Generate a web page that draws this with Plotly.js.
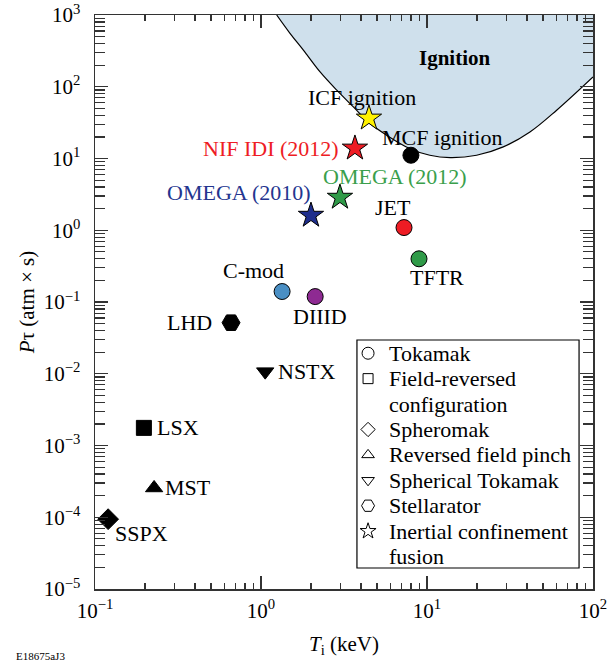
<!DOCTYPE html>
<html><head><meta charset="utf-8">
<script src="https://cdn.plot.ly/plotly-3.0.1.min.js"></script>
<style>html,body{margin:0;padding:0;background:#fff}</style>
</head><body><div id="chart" style="width:610px;height:663px"></div>
<script>
// ---- data ----
const devices = ['C-mod','DIIID','JET','TFTR','MCF ignition','ICF ignition','NIF IDI (2012)','OMEGA (2012)','OMEGA (2010)','LHD','NSTX','LSX','MST','SSPX'];
const Ti   = [1.34, 2.12, 7.27, 8.95, 8.0, 4.47, 3.68, 2.99, 2.0, 0.66, 1.06, 0.197, 0.227, 0.12];
const Ptau = [0.14, 0.119, 1.09, 0.40, 11.1, 36.4, 13.9, 2.87, 1.61, 0.0515, 0.0107, 0.00176, 0.000256, 0.000094];
const conceptType = ['Tokamak','Tokamak','Tokamak','Tokamak','Tokamak','ICF','ICF','ICF','ICF','Stellarator','Spherical Tokamak','FRC','RFP','Spheromak'];

const ignitionTi   = [1.243, 1.495, 1.80, 2.27, 2.86, 3.60, 4.54, 5.72, 7.9, 10.4, 13.8, 19.9, 28.8, 41.7, 60.4, 100];
const ignitionPtau = [1000, 555, 324, 161, 89.7, 52.4, 30.7, 21.1, 13.7, 11.1, 10.3, 11.1, 14.5, 23.4, 47.1, 137];

const legendConcepts = ['Tokamak','FRC','Spheromak','RFP','Spherical Tokamak','Stellarator','ICF'];
const legendLines = [['Tokamak'],['Field-reversed','configuration'],['Spheromak'],['Reversed field pinch'],['Spherical Tokamak'],['Stellarator'],['Inertial confinement','fusion']];

const xTickVals = [0.1, 1, 10, 100];
const xTickText = ['10<sup>−1</sup>','10<sup>0</sup>','10<sup>1</sup>','10<sup>2</sup>'];
const yTickVals = [1e-5,1e-4,1e-3,1e-2,1e-1,1,10,100,1000];
const yTickText = ['10<sup>−5</sup>','10<sup>−4</sup>','10<sup>−3</sup>','10<sup>−2</sup>','10<sup>−1</sup>','10<sup>0</sup>','10<sup>1</sup>','10<sup>2</sup>','10<sup>3</sup>'];

// ---- styles ----
const FONT = 'Liberation Serif';
const symbolOf = {'Tokamak':'circle','FRC':'square','Spheromak':'diamond','RFP':'triangle-up','Spherical Tokamak':'triangle-down','Stellarator':'hexagon2','ICF':'star'};
const sizeOf = {'Tokamak':16,'FRC':15,'Spheromak':16,'RFP':15,'Spherical Tokamak':15,'Stellarator':18,'ICF':19};
const legendSizeOf = {'Tokamak':12,'FRC':10,'Spheromak':11,'RFP':11,'Spherical Tokamak':11,'Stellarator':13,'ICF':12};
const deviceColor = {'C-mod':'#4a8fc4','DIIID':'#8e2a92','JET':'#ee1c24','TFTR':'#2f9a48','MCF ignition':'#000000','ICF ignition':'#fff200','NIF IDI (2012)':'#ee1c24','OMEGA (2012)':'#2f9a48','OMEGA (2010)':'#1e2d8c','LHD':'#000','NSTX':'#000','LSX':'#000','MST':'#000','SSPX':'#000'};
const labelColor = {'NIF IDI (2012)':'#ee1c24','OMEGA (2012)':'#3a9f4c','OMEGA (2010)':'#24358f'};
// label placement: [xanchor, xshift, yshift]
const labelPlace = {
  'C-mod':['center',-29,21], 'DIIID':['center',5,-20], 'JET':['center',-11,20], 'TFTR':['center',18,-19],
  'MCF ignition':['center',31,18], 'ICF ignition':['center',-7,21], 'NIF IDI (2012)':['right',-14,0],
  'OMEGA (2012)':['center',55,21], 'OMEGA (2010)':['center',-72,23], 'LHD':['right',-17,0],
  'NSTX':['left',11,0], 'LSX':['left',11,0], 'MST':['left',9,0], 'SSPX':['left',5,-14]
};
// legend box (paper coords)
const LEG = {x0: 0.526, x1: 0.972, y0: 0.0366, y1: 0.4338};

const traces = [];
traces.push({
  x: ignitionTi.concat([100]), y: ignitionPtau.concat([1000]),
  mode: 'lines', fill: 'toself', fillcolor: '#cfe0ec', line: {width: 0, color: 'rgba(0,0,0,0)'},
  hoverinfo: 'skip', showlegend: false
});
traces.push({
  x: ignitionTi, y: ignitionPtau, mode: 'lines', line: {color: '#000', width: 1.2, shape: 'spline'},
  hoverinfo: 'skip', showlegend: false
});
traces.push({
  x: Ti, y: Ptau, mode: 'markers', showlegend: false, text: devices,
  marker: {
    symbol: conceptType.map(c => symbolOf[c]),
    size: conceptType.map(c => sizeOf[c]),
    color: devices.map(d => deviceColor[d]),
    opacity: 1,
    line: {color: '#000', width: 1}
  }
});

// legend: rows on a small helper subplot
const legendRowOfEntry = [];
const legendRowText = [];
legendLines.forEach(lines => {
  legendRowOfEntry.push(legendRowText.length);
  lines.forEach(t => legendRowText.push(t));
});
traces.push({
  x: legendConcepts.map(() => 0.05), y: legendRowOfEntry, xaxis: 'x2', yaxis: 'y2',
  mode: 'markers', showlegend: false, hoverinfo: 'skip',
  marker: {
    symbol: legendConcepts.map(c => symbolOf[c] + '-open'),
    size: legendConcepts.map(c => legendSizeOf[c]),
    color: '#000', opacity: 1, line: {color: '#000', width: 1}
  }
});

const annotations = devices.map((d, i) => {
  const p = labelPlace[d];
  return {
    x: Math.log10(Ti[i]), y: Math.log10(Ptau[i]), xref: 'x', yref: 'y',
    text: d, showarrow: false, xanchor: p[0], yanchor: 'middle', xshift: p[1], yshift: p[2],
    font: {family: FONT, size: 22, color: labelColor[d] || '#000'}
  };
});
annotations.push({
  x: Math.log10(14.7), y: Math.log10(251), xref: 'x', yref: 'y', text: '<b>Ignition</b>',
  showarrow: false, font: {family: FONT, size: 21, color: '#000'}
});
legendRowText.forEach((t, r) => {
  annotations.push({
    x: 0.135, y: r, xref: 'x2', yref: 'y2', text: t, showarrow: false,
    xanchor: 'left', yanchor: 'middle', font: {family: FONT, size: 22, color: '#000'}
  });
});
annotations.push({
  x: -0.163, y: -0.117, xref: 'paper', yref: 'paper', text: 'E18675aJ3', showarrow: false,
  xanchor: 'left', yanchor: 'middle', font: {family: FONT, size: 11, color: '#000'}
});

function minorVals(lo, hi) {
  const out = [];
  for (let e = lo; e < hi; e++) for (let k = 2; k <= 9; k++) out.push(k * Math.pow(10, e));
  return out;
}

const axisCommon = {
  type: 'log', showgrid: false, zeroline: false, showline: true, linecolor: '#333', linewidth: 1.5,
  mirror: 'allticks', ticks: 'inside', ticklen: 13, tickwidth: 1.3, tickcolor: '#333',
  tickmode: 'array', tickfont: {family: FONT, size: 21, color: '#000'}
};

const layout = {
  width: 610, height: 663,
  margin: {l: 95, r: 17, t: 15, b: 74},
  paper_bgcolor: '#fff', plot_bgcolor: 'rgba(0,0,0,0)',
  font: {family: FONT, color: '#000'},
  showlegend: false,
  xaxis: Object.assign({}, axisCommon, {
    range: [-1, 2], tickvals: xTickVals, ticktext: xTickText, ticklabelstandoff: 2,
    minor: {tickmode: 'array', tickvals: minorVals(-1, 2), ticks: 'inside', ticklen: 6, tickwidth: 1.2, tickcolor: '#333', showgrid: false},
    title: {text: '<i>T</i><sub>i</sub> (keV)', font: {family: FONT, size: 21}, standoff: 14}
  }),
  yaxis: Object.assign({}, axisCommon, {
    range: [-5, 3], tickvals: yTickVals, ticktext: yTickText, ticklabelstandoff: 9,
    minor: {tickmode: 'array', tickvals: minorVals(-5, 3), ticks: 'inside', ticklen: 10, tickwidth: 1.2, tickcolor: '#333', showgrid: false},
    title: {text: '<i>P</i>τ (atm × s)', font: {family: FONT, size: 21}, standoff: 3}
  }),
  xaxis2: {domain: [LEG.x0, LEG.x1], range: [0, 1], anchor: 'y2', visible: false, fixedrange: true},
  yaxis2: {domain: [LEG.y0, LEG.y1], range: [8.45, -0.52], anchor: 'x2', visible: false, fixedrange: true},
  shapes: [{
    type: 'rect', xref: 'paper', yref: 'paper', x0: LEG.x0, x1: LEG.x1, y0: LEG.y0, y1: LEG.y1,
    line: {color: '#000', width: 1.2}, fillcolor: 'rgba(0,0,0,0)', layer: 'above'
  }],
  annotations: annotations
};

Plotly.newPlot('chart', traces, layout, {staticPlot: true, displayModeBar: false});
</script>
</body></html>
